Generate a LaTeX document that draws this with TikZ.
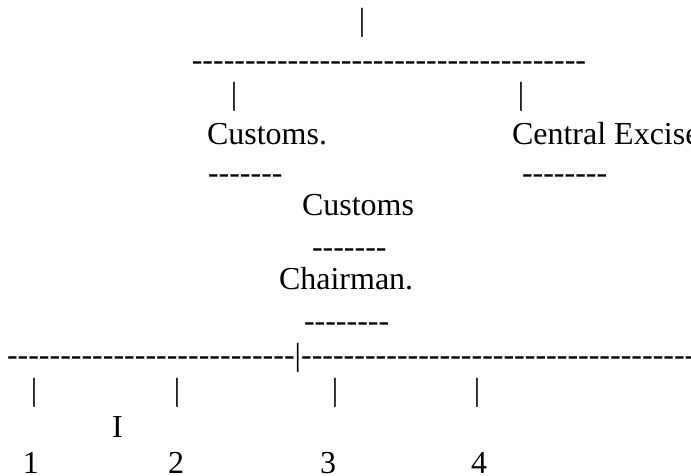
\documentclass[tikz,border=0pt]{standalone}
\usepackage{fontspec}
\setmainfont{Liberation Serif}[Ligatures=TeXOff]
\begin{document}
\begin{tikzpicture}[x=1pt,y=-1pt,
  txt/.style={inner sep=0pt,outer sep=0pt,font=\fontsize{32}{38}\selectfont},
  tl/.style={txt,anchor=base west},
  tc/.style={txt,anchor=base}]
\useasboundingbox (0,0) rectangle (691,475);
\node[tc] (topbar) at (362,30) {|};
\node[tl] (line1) at (191.8,70) {-------------------------------------};
\node[tc] (barL) at (234,104) {|};
\node[tc] (barR) at (521,104) {|};
\node[tl] (customsA) at (207,144) {Customs.};
\node[tl] (excise) at (512,144) {Central Excise};
\node[tl] (dA) at (208,183) {-------};
\node[tl] (dB) at (522,183) {--------};
\node[tl] (customsB) at (302,215) {Customs};
\node[tl] (dC) at (312,257) {-------};
\node[tl] (chair) at (279,289) {Chairman.};
\node[tl] (dD) at (304,331) {--------};
\node[tl] (line2) at (7,365) {---------------------------|----------------------------------------};
\node[tc] (bar1) at (34,400) {|};
\node[tc] (bar2) at (177,400) {|};
\node[tc] (bar3) at (335,400) {|};
\node[tc] (bar4) at (477,400) {|};
\node[tc] (roman) at (117.5,437) {I};
\node[tc] (n1) at (31,473) {1};
\node[tc] (n2) at (176,473) {2};
\node[tc] (n3) at (328,473) {3};
\node[tc] (n4) at (479,473) {4};
\end{tikzpicture}
\end{document}
